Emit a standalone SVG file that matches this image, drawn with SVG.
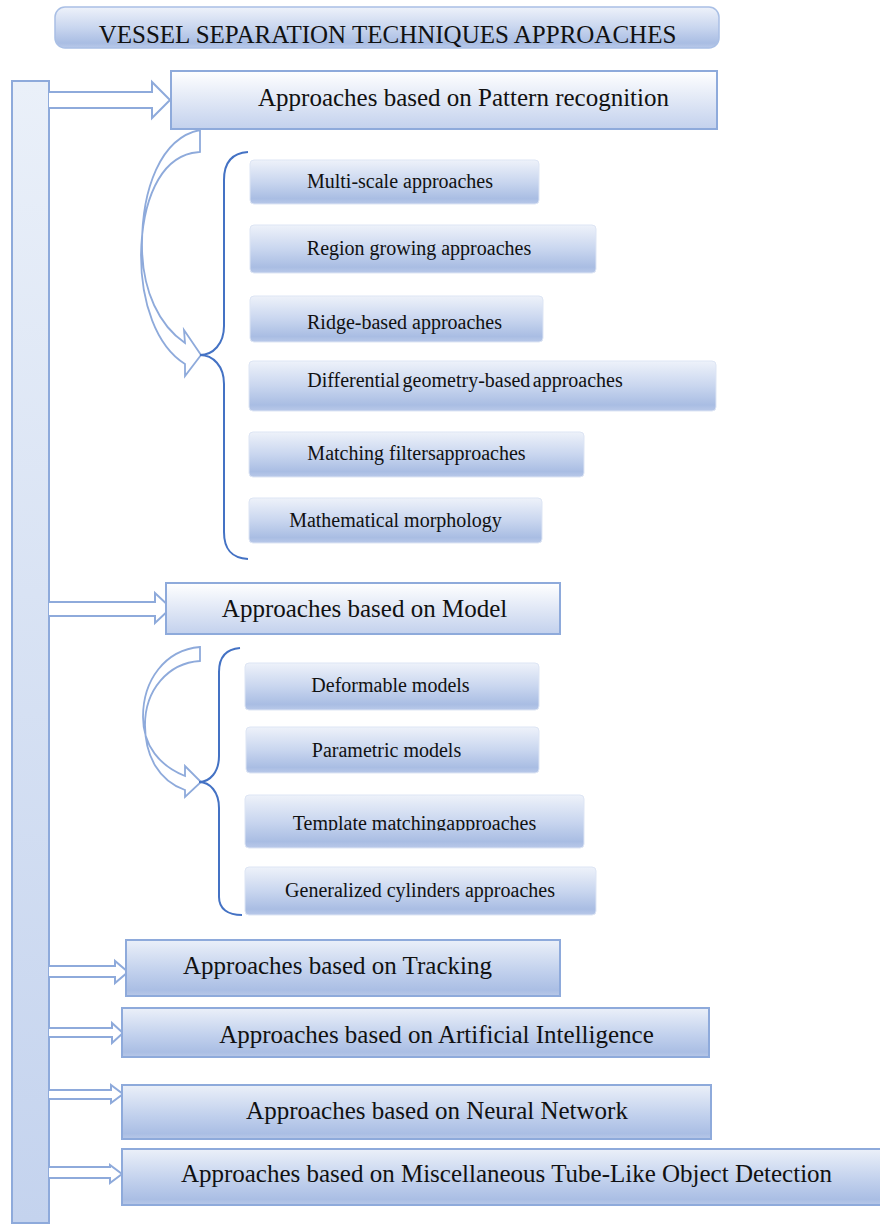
<svg xmlns="http://www.w3.org/2000/svg" width="880" height="1224" viewBox="0 0 880 1224">
<defs>
<linearGradient id="gSub" x1="0" y1="0" x2="0" y2="1">
<stop offset="0" stop-color="#eef2fa"/>
<stop offset="0.5" stop-color="#c9d6ef"/>
<stop offset="0.88" stop-color="#a9bde3"/>
<stop offset="1" stop-color="#b9c9e9"/>
</linearGradient>
<linearGradient id="gHead" x1="0" y1="0" x2="0" y2="1">
<stop offset="0" stop-color="#ffffff"/>
<stop offset="1" stop-color="#c3d1ed"/>
</linearGradient>
<linearGradient id="gLow" x1="0" y1="0" x2="0" y2="1">
<stop offset="0" stop-color="#ebf0f9"/>
<stop offset="0.55" stop-color="#c2d1ed"/>
<stop offset="0.9" stop-color="#aabee4"/>
<stop offset="1" stop-color="#b8c8e8"/>
</linearGradient>
<linearGradient id="gBar" x1="0" y1="0" x2="0" y2="1">
<stop offset="0" stop-color="#eaf0f9"/>
<stop offset="1" stop-color="#c4d3ee"/>
</linearGradient>
<clipPath id="clipTpl"><rect x="245" y="795" width="340" height="35.5"/></clipPath>
</defs>
<style>
text{font-family:"Liberation Serif","Times New Roman",serif;fill:#111;text-anchor:middle}
.big{font-size:25px}
.sub{font-size:20px}
.hbox{stroke:#8eaadb;stroke-width:2}
.sbox{fill:url(#gSub);stroke:#dde5f4;stroke-width:1}
.blk{fill:#fff;stroke:#8eaadb;stroke-width:2;stroke-linejoin:miter}
.curv{fill:#fff;stroke:#8eaadb;stroke-width:1.8;stroke-linejoin:miter}
.brace{fill:none;stroke:#4472c4;stroke-width:2}
</style>

<g id="title">
<rect x="55" y="7" width="664" height="41" rx="10" fill="url(#gSub)" stroke="#a9bfe5" stroke-width="1.5"/>
<text class="big" x="387.5" y="43">VESSEL SEPARATION TECHNIQUES APPROACHES</text>
</g>

<g id="bar">
<rect x="12" y="81" width="37" height="1142" fill="url(#gBar)" stroke="#8eaadb" stroke-width="2"/>
</g>

<g id="connectors">
<path class="blk" d="M49,92 L152,92 L152,82 L170,100 L152,118 L152,108 L49,108"/>
<path class="blk" d="M49,602 L155,602 L155,593 L171,608 L155,623 L155,616 L49,616"/>
<path class="blk" d="M49,966 L115,966 L115,961 L128,972 L115,983 L115,977 L49,977"/>
<path class="blk" d="M49,1028 L112,1028 L112,1023 L123,1033 L112,1043 L112,1037 L49,1037"/>
<path class="blk" d="M49,1090 L111,1090 L111,1085 L123,1094 L111,1103 L111,1099 L49,1099"/>
<path class="blk" d="M49,1167 L110,1167 L110,1165 L122,1174 L110,1183 L110,1178 L49,1178"/>
<path class="curv" d="M200,130 C 160,138 142,190 142,245 C 142,292 160,326 185,343 L 184,330 L 201,355 L 185,376 L 185,364 C 156,346 141,302 141,255 C 142,200 160,160 192,153 L 200,152 Z"/>
<path class="curv" d="M200,647 C 165,650 143,680 143,717 C 143,746 160,766 185,776 L 185,766 L 201,782 L 185,797 L 185,790 C 159,781 145,756 145,725 C 145,690 168,663 200,661 Z"/>
<path class="brace" d="M248,152 C 232,153 224,162 224,180 L 224,326 C 224,344 213,355 200,355 C 213,355 224,366 224,384 L 224,532 C 224,550 232,558 248,559"/>
<path class="brace" d="M240,648 C 226,649 219,657 219,672 L 219,756 C 219,772 210,782 199,782 C 210,782 219,792 219,808 L 219,897 C 219,909 228,915 242,915"/>
</g>

<g id="n-pattern">
<rect class="hbox" x="171" y="71" width="546" height="58" fill="url(#gHead)"/>
<text class="big" x="463.5" y="106">Approaches based on Pattern recognition</text>
</g>
<g id="n-multiscale">
<rect class="sbox" x="250" y="160" width="289" height="44" rx="4"/>
<text class="sub" x="400" y="188">Multi-scale approaches</text>
</g>
<g id="n-region">
<rect class="sbox" x="250" y="225" width="346" height="48" rx="4"/>
<text class="sub" x="419" y="255">Region growing approaches</text>
</g>
<g id="n-ridge">
<rect class="sbox" x="250" y="296" width="293" height="46" rx="4"/>
<text class="sub" x="404.5" y="329">Ridge-based approaches</text>
</g>
<g id="n-differential">
<rect class="sbox" x="249" y="361" width="467" height="50" rx="4"/>
<text class="sub" x="465" y="387" word-spacing="-2.5">Differential geometry-based approaches</text>
</g>
<g id="n-matching">
<rect class="sbox" x="249" y="432" width="335" height="45" rx="4"/>
<text class="sub" x="416.5" y="460">Matching filtersapproaches</text>
</g>
<g id="n-morphology">
<rect class="sbox" x="249" y="498" width="293" height="45" rx="4"/>
<text class="sub" x="395.5" y="527">Mathematical morphology</text>
</g>

<g id="n-model">
<rect class="hbox" x="166" y="583" width="394" height="51" fill="url(#gHead)"/>
<text class="big" x="364.5" y="617">Approaches based on Model</text>
</g>
<g id="n-deformable">
<rect class="sbox" x="245" y="663" width="294" height="47" rx="4"/>
<text class="sub" x="390.5" y="692">Deformable models</text>
</g>
<g id="n-parametric">
<rect class="sbox" x="246" y="727" width="293" height="46" rx="4"/>
<text class="sub" x="386.5" y="757">Parametric models</text>
</g>
<g id="n-template">
<rect class="sbox" x="245" y="795" width="339" height="53" rx="4"/>
<text class="sub" x="414.5" y="830" clip-path="url(#clipTpl)">Template matchingapproaches</text>
</g>
<g id="n-cylinders">
<rect class="sbox" x="245" y="867" width="351" height="48" rx="4"/>
<text class="sub" x="420" y="897">Generalized cylinders approaches</text>
</g>

<g id="n-tracking">
<rect class="hbox" x="126" y="940" width="434" height="56" fill="url(#gLow)"/>
<text class="big" x="337.5" y="974">Approaches based on Tracking</text>
</g>
<g id="n-ai">
<rect class="hbox" x="122" y="1008" width="587" height="49" fill="url(#gLow)"/>
<text class="big" x="436.5" y="1043">Approaches based on Artificial Intelligence</text>
</g>
<g id="n-neural">
<rect class="hbox" x="122" y="1085" width="589" height="54" fill="url(#gLow)"/>
<text class="big" x="437" y="1119">Approaches based on Neural Network</text>
</g>
<g id="n-misc">
<path class="hbox" d="M881,1149 L122,1149 L122,1205 L881,1205" fill="url(#gLow)"/>
<text class="big" x="506.5" y="1182">Approaches based on Miscellaneous Tube-Like Object Detection</text>
</g>
</svg>
